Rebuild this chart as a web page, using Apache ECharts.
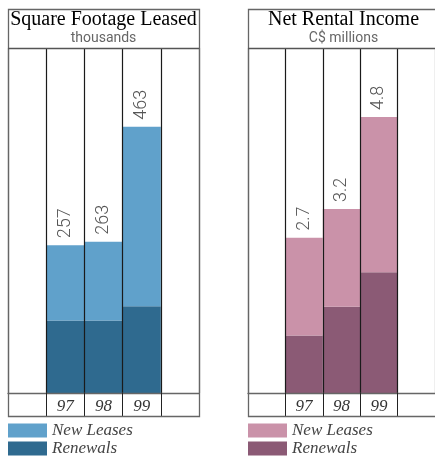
<!DOCTYPE html>
<html>
<head>
<meta charset="utf-8">
<script src="https://cdn.jsdelivr.net/npm/echarts@6/dist/echarts.min.js"></script>
<style>
  html, body { margin: 0; padding: 0; background: #fff; }
  #main { width: 435px; height: 456px; }
</style>
</head>
<body>
<div id="main"></div>
<script>
// data
var years = ['', '97', '98', '99', ''];
var sqftRenewals = [null, 126, 126, 151, null];
var sqftNew = [null, 131, 137, 312, null];
var incomeRenewals = [null, 1.0, 1.5, 2.1, null];
var incomeNew = [null, 1.7, 1.7, 2.7, null];

var blueLight = '#60a1cb', blueDark = '#2f6a8f';
var pinkLight = '#ca92a9', pinkDark = '#8b5a75';

var myChart = echarts.init(document.getElementById('main'));

function total(a, b, i) {
    return a[i] + b[i];
}

function panelFrame(x) {
    return [
        { type: 'rect', shape: { x: x + 0.5, y: 9.5, width: 191, height: 407 },
          style: { fill: null, stroke: '#666', lineWidth: 1.3 }, z: 100 },
        { type: 'line', shape: { x1: x, y1: 48.5, x2: x + 191, y2: 48.5 },
          style: { stroke: '#555', lineWidth: 1.3 }, z: 100 }
    ];
}

function xAxisFor(gi) {
    return {
        type: 'category', gridIndex: gi, data: years, boundaryGap: true, z: 5,
        axisLine: { show: true, lineStyle: { color: '#666', width: 1.3 } },
        axisTick: { show: true, length: 23, interval: 0, lineStyle: { color: '#222' } },
        axisLabel: { interval: 0, margin: 5, color: '#333', fontSize: 17, fontStyle: 'italic',
                     fontFamily: 'Liberation Serif' },
        splitLine: { show: true, interval: 0,
                     lineStyle: { color: ['#666', '#1a1a1a', '#1a1a1a', '#1a1a1a', '#1a1a1a'], width: 1.2 } }
    };
}

function yAxisFor(gi, max) {
    return {
        type: 'value', gridIndex: gi, min: 0, max: max,
        axisLine: { show: false }, axisTick: { show: false },
        axisLabel: { show: false }, splitLine: { show: false }
    };
}

function legendFor(x, light, dark) {
    return {
        orient: 'vertical', left: x, top: 422, height: 60, itemWidth: 39, itemHeight: 14,
        itemGap: 1, padding: 0, icon: 'rect', selectedMode: false,
        textStyle: { fontFamily: 'Liberation Serif', fontStyle: 'italic', fontSize: 17,
                     lineHeight: 14, color: '#444' },
        data: [{ name: 'New Leases', itemStyle: { color: light } },
               { name: 'Renewals', itemStyle: { color: dark } }]
    };
}

function titleFor(x, text, sub) {
    return {
        text: text, subtext: sub, left: x, top: 10, textAlign: 'center', padding: 0, itemGap: 1,
        textStyle: { fontFamily: 'Liberation Serif', fontSize: 20, fontWeight: 'normal', color: '#000' },
        subtextStyle: { fontFamily: 'Roboto', fontSize: 14, color: '#666' }
    };
}

var labelStyle = {
    show: true, position: 'top', rotate: 90, align: 'left', verticalAlign: 'middle',
    distance: 7, color: '#555', fontSize: 18, fontFamily: 'Roboto', fontWeight: 300
};

option = {
    animation: false,
    title: [
        titleFor(103.5, 'Square Footage Leased', 'thousands'),
        titleFor(343.5, 'Net Rental Income', 'C$ millions')
    ],
    legend: [
        legendFor(8, blueLight, blueDark),
        legendFor(248, pinkLight, pinkDark)
    ],
    grid: [
        { left: 8, top: 48, width: 191, height: 345 },
        { left: 248, top: 48, width: 191, height: 345 }
    ],
    xAxis: [xAxisFor(0), xAxisFor(1)],
    yAxis: [yAxisFor(0, 600), yAxisFor(1, 6)],
    graphic: panelFrame(8).concat(panelFrame(248)),
    series: [
        { name: 'Renewals', type: 'bar', stack: 'a', xAxisIndex: 0, yAxisIndex: 0,
          barWidth: '100%', data: sqftRenewals, itemStyle: { color: blueDark } },
        { name: 'New Leases', type: 'bar', stack: 'a', xAxisIndex: 0, yAxisIndex: 0,
          barWidth: '100%', data: sqftNew, itemStyle: { color: blueLight },
          label: Object.assign({}, labelStyle, {
              formatter: function (p) { return total(sqftRenewals, sqftNew, p.dataIndex); } }) },
        { name: 'Renewals', type: 'bar', stack: 'b', xAxisIndex: 1, yAxisIndex: 1,
          barWidth: '100%', data: incomeRenewals, itemStyle: { color: pinkDark } },
        { name: 'New Leases', type: 'bar', stack: 'b', xAxisIndex: 1, yAxisIndex: 1,
          barWidth: '100%', data: incomeNew, itemStyle: { color: pinkLight },
          label: Object.assign({}, labelStyle, {
              formatter: function (p) { return total(incomeRenewals, incomeNew, p.dataIndex).toFixed(1); } }) }
    ]
};

myChart.setOption(option);
window.onresize = function () {
    myChart.resize();
};
</script>
</body>
</html>
